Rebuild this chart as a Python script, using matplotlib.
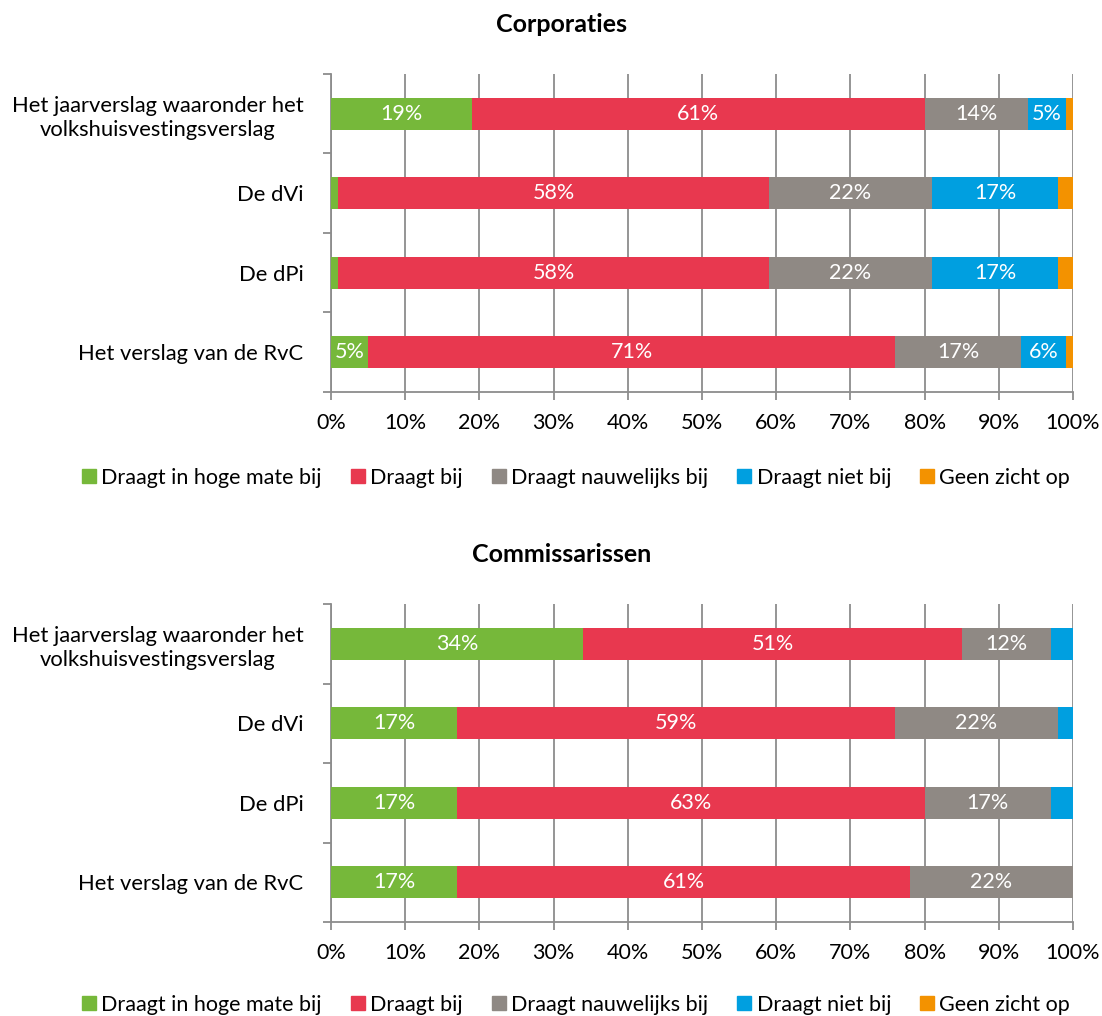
import numpy as np
import matplotlib.pyplot as plt
from matplotlib.patches import Patch

plt.rcParams['font.family'] = ['Lato', 'DejaVu Sans']

categories = ['Het jaarverslag waaronder het\nvolkshuisvestingsverslag',
              'De dVi', 'De dPi', 'Het verslag van de RvC']
series = ['Draagt in hoge mate bij', 'Draagt bij', 'Draagt nauwelijks bij',
          'Draagt niet bij', 'Geen zicht op']
colors = ['#76b83a', '#e8384f', '#8f8984', '#009fe0', '#f39200']

# percentages per category, one list per series
corp_hoog = [19, 1, 1, 5]
corp_bij = [61, 58, 58, 71]
corp_nauw = [14, 22, 22, 17]
corp_niet = [5, 17, 17, 6]
corp_geen = [1, 2, 2, 1]

comm_hoog = [34, 17, 17, 17]
comm_bij = [51, 59, 63, 61]
comm_nauw = [12, 22, 17, 22]
comm_niet = [3, 2, 3, 0]
comm_geen = [0, 0, 0, 0]

xticks = np.arange(0, 101, 10)
xlabels = [f'{t}%' for t in xticks]

fig = plt.figure(figsize=(11.02, 10.16), dpi=100)
FS = 15.5


def draw(ax, data, title, legend_y):
    n = len(categories)
    y = np.arange(n)[::-1]
    left = np.zeros(n)
    for vals, col in zip(data, colors):
        vals = np.array(vals, dtype=float)
        ax.barh(y, vals, left=left, height=0.4, color=col, zorder=3)
        for yi, l, v in zip(y, left, vals):
            if v >= 5:
                ax.text(l + v / 2, yi, f'{int(v)}%', ha='center', va='center',
                        color='white', fontsize=FS, zorder=4)
        left += vals
    ax.set_xlim(0, 100)
    ax.set_ylim(-0.5, n - 0.5)
    ax.set_yticks(y)
    ax.set_yticklabels(categories, fontsize=FS + 0.3, multialignment='center',
                       linespacing=1.25)
    ax.set_yticks(np.arange(-0.5, n, 1), minor=True)
    ax.tick_params(axis='y', which='major', length=0, pad=20)
    ax.tick_params(axis='y', which='minor', length=6, width=1.3, color='#8c8c8c')
    ax.set_xticks(xticks)
    ax.set_xticklabels(xlabels, fontsize=FS)
    ax.tick_params(axis='x', length=6, width=1.3, color='#8c8c8c', pad=9)
    ax.grid(axis='x', color='#8c8c8c', linewidth=1.3, zorder=0)
    for s in ['top', 'right']:
        ax.spines[s].set_visible(False)
    for s in ['left', 'bottom']:
        ax.spines[s].set_color('#8c8c8c')
        ax.spines[s].set_linewidth(1.3)
    ax.set_title(title, fontsize=18, fontweight='bold', pad=30, x=0.311)
    handles = [Patch(color=c, label=s) for s, c in zip(series, colors)]
    ax.legend(handles=handles, loc='center', bbox_to_anchor=(0.33, legend_y),
              ncol=5, frameon=False, fontsize=FS, handlelength=0.65,
              handleheight=0.65, handletextpad=0.25, columnspacing=1.35)


ax1 = fig.add_axes([0.3004, 0.6142, 0.6733, 0.313])
draw(ax1, [corp_hoog, corp_bij, corp_nauw, corp_niet, corp_geen], 'Corporaties', -0.27)
ax2 = fig.add_axes([0.3004, 0.0925, 0.6733, 0.313])
draw(ax2, [comm_hoog, comm_bij, comm_nauw, comm_niet, comm_geen], 'Commissarissen', -0.26)

fig.savefig('out.png', dpi=100)
